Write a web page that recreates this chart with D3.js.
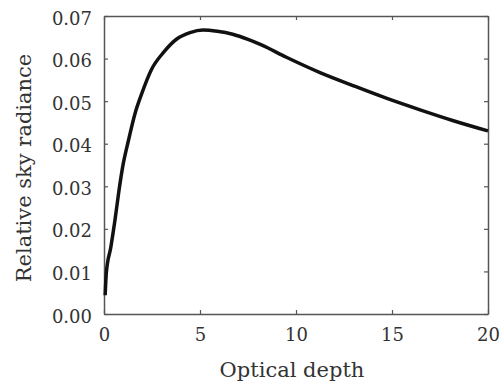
<!DOCTYPE html>
<html>
<head>
<meta charset="utf-8">
<script src="https://cdn.jsdelivr.net/npm/d3@7"></script>
<style>
  body { margin: 0; background: #fff; }
  text { font-family: "DejaVu Serif", serif; fill: #333; }
</style>
</head>
<body>
<svg width="502" height="383"></svg>
<script>
var depth    = [0.06, 0.12, 0.36, 0.57, 0.78, 0.97, 1.27, 1.61, 1.96, 2.48, 3.09, 3.79, 4.48, 5.16, 5.9, 6.7, 7.5, 8.2, 9.5, 11.25, 13.0, 14.7, 16.5, 18.2, 20];
var radiance = [0.0044, 0.0096, 0.0158, 0.022, 0.029, 0.0345, 0.0407, 0.047, 0.0517, 0.0575, 0.0614, 0.0646, 0.0661, 0.0667, 0.0664, 0.0657, 0.0645, 0.0632, 0.0603, 0.0567, 0.0536, 0.0507, 0.0479, 0.0454, 0.043];
var xTicks = [0, 5, 10, 15, 20];
var yTicks = [0, 0.01, 0.02, 0.03, 0.04, 0.05, 0.06, 0.07];

var svg = d3.select("svg"),
    margin = {top: 16, right: 14, bottom: 69, left: 104},
    width = +svg.attr("width") - margin.left - margin.right,
    height = +svg.attr("height") - margin.top - margin.bottom,
    g = svg.append("g").attr("transform", "translate(" + margin.left + "," + margin.top + ")");

var x = d3.scaleLinear().domain([0, 20]).range([0, width]);
var y = d3.scaleLinear().domain([0, 0.07]).range([height, 0]);

var axisColor = "#555";

function styleAxis(sel) {
  sel.select(".domain").attr("stroke", axisColor).attr("stroke-width", 1.5);
  sel.selectAll(".tick line").attr("stroke", axisColor).attr("stroke-width", 1.2);
  sel.selectAll(".tick text").attr("fill", "#333").style("font-size", "18px")
    .style("font-family", "DejaVu Serif, serif");
}

// bottom / left with labels, ticks pointing inward
g.append("g")
    .attr("transform", "translate(0," + height + ")")
    .call(d3.axisBottom(x).tickValues(xTicks).tickSizeInner(-4).tickSizeOuter(0).tickPadding(14))
    .call(styleAxis);

g.append("g")
    .call(d3.axisLeft(y).tickValues(yTicks).tickFormat(d3.format(".2f")).tickSizeInner(-4).tickSizeOuter(0).tickPadding(12))
    .call(styleAxis)
    .selectAll(".tick text").attr("dy", "0.45em");

// top / right frame with inward ticks
g.append("g")
    .call(d3.axisTop(x).tickValues(xTicks).tickSizeInner(-4).tickSizeOuter(0).tickFormat(""))
    .call(styleAxis);

g.append("g")
    .attr("transform", "translate(" + width + ",0)")
    .call(d3.axisRight(y).tickValues(yTicks).tickSizeInner(-4).tickSizeOuter(0).tickFormat(""))
    .call(styleAxis);

var line = d3.line()
    .x(function(d, i) { return x(depth[i]); })
    .y(function(d) { return y(d); })
    .curve(d3.curveMonotoneX);

g.append("path")
    .datum(radiance)
    .attr("fill", "none")
    .attr("stroke", "#111")
    .attr("stroke-width", 3.5)
    .attr("stroke-linejoin", "round")
    .attr("d", line);

svg.append("text")
    .attr("x", 292)
    .attr("y", 377)
    .attr("text-anchor", "middle")
    .style("font-size", "21px")
    .text("Optical depth");

svg.append("text")
    .attr("transform", "translate(31," + (margin.top + height / 2 + 3) + ") rotate(-90)")
    .attr("text-anchor", "middle")
    .style("font-size", "21px")
    .text("Relative sky radiance");
</script>
</body>
</html>
